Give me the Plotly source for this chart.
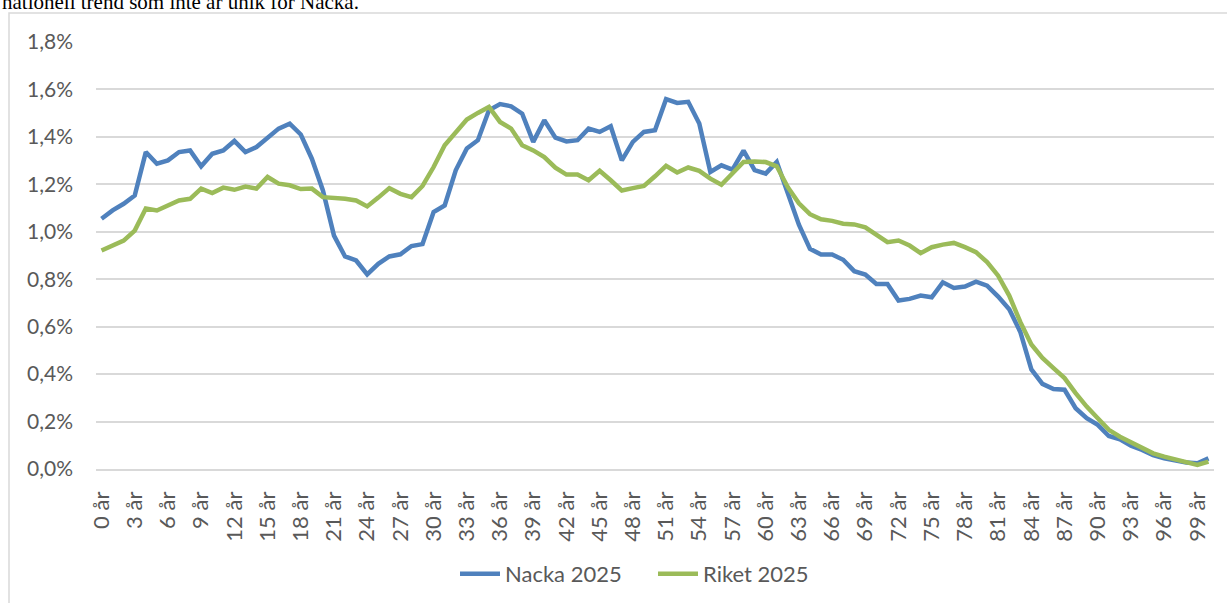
import plotly.graph_objects as go

ages = [f"{a} år" for a in range(101)]
tick_labels = [f"{a} år" for a in range(0, 100, 3)]
y_ticks = [0, 0.2, 0.4, 0.6, 0.8, 1.0, 1.2, 1.4, 1.6, 1.8]
y_tick_labels = ["0,0%", "0,2%", "0,4%", "0,6%", "0,8%", "1,0%", "1,2%", "1,4%", "1,6%", "1,8%"]

nacka_2025 = [
    1.055, 1.090, 1.118, 1.153, 1.336, 1.287, 1.301, 1.336, 1.343, 1.276,
    1.329, 1.343, 1.383, 1.336, 1.357, 1.393, 1.435, 1.456, 1.410, 1.308,
    1.174, 0.984, 0.896, 0.879, 0.820, 0.865, 0.896, 0.905, 0.940, 0.948,
    1.083, 1.111, 1.259, 1.351, 1.386, 1.512, 1.538, 1.529, 1.498, 1.379,
    1.470, 1.397, 1.381, 1.386, 1.435, 1.421, 1.445, 1.301, 1.379, 1.421,
    1.428, 1.559, 1.543, 1.548, 1.456, 1.252, 1.280, 1.262, 1.342, 1.260,
    1.245, 1.294, 1.161, 1.030, 0.928, 0.904, 0.904, 0.882, 0.834, 0.820,
    0.780, 0.780, 0.710, 0.717, 0.731, 0.724, 0.787, 0.763, 0.769, 0.790,
    0.773, 0.727, 0.673, 0.578, 0.420, 0.359, 0.337, 0.334, 0.256, 0.214,
    0.186, 0.139, 0.125, 0.098, 0.080, 0.058, 0.045, 0.035, 0.027, 0.024,
    0.045,
]

riket_2025 = [
    0.921, 0.942, 0.963, 1.005, 1.098, 1.090, 1.111, 1.132, 1.139, 1.182,
    1.163, 1.186, 1.177, 1.191, 1.182, 1.231, 1.203, 1.196, 1.180, 1.182,
    1.146, 1.144, 1.139, 1.132, 1.107, 1.144, 1.184, 1.160, 1.146, 1.193,
    1.273, 1.365, 1.417, 1.473, 1.501, 1.526, 1.463, 1.435, 1.365, 1.343,
    1.315, 1.270, 1.241, 1.241, 1.217, 1.257, 1.217, 1.174, 1.184, 1.193,
    1.234, 1.278, 1.250, 1.271, 1.257, 1.224, 1.198, 1.246, 1.294, 1.296,
    1.294, 1.276, 1.188, 1.120, 1.074, 1.053, 1.046, 1.034, 1.031, 1.019,
    0.989, 0.956, 0.963, 0.942, 0.910, 0.935, 0.946, 0.953, 0.935, 0.914,
    0.872, 0.815, 0.731, 0.620, 0.525, 0.468, 0.425, 0.383, 0.320, 0.263,
    0.214, 0.165, 0.136, 0.111, 0.087, 0.066, 0.052, 0.041, 0.028, 0.017,
    0.031,
]

W, H = 1227, 603
L, R, T, B = 96, 13, 42, 134
pw, ph = W - L - R, H - T - B


def px_x(p):
    return (p - L) / pw


def px_y(p):
    return (H - B - p) / ph


FONT = "Lato"
GRAY = "#595959"

fig = go.Figure()
fig.add_trace(go.Scatter(x=ages, y=nacka_2025, mode="lines", name="Nacka 2025",
                         line=dict(color="#4F81BD", width=4.5)))
fig.add_trace(go.Scatter(x=ages, y=riket_2025, mode="lines", name="Riket 2025",
                         line=dict(color="#9BBB59", width=4.5)))

fig.update_layout(
    width=W, height=H,
    margin=dict(l=L, r=R, t=T, b=B, autoexpand=False),
    paper_bgcolor="white", plot_bgcolor="white",
    font=dict(family=FONT, size=21, color=GRAY),
    showlegend=True,
    legend=dict(orientation="h", x=px_x(455), y=px_y(574), xanchor="left",
                yanchor="middle", font=dict(family=FONT, size=22, color=GRAY),
                bgcolor="rgba(0,0,0,0)", itemwidth=40, tracegroupgap=0,
                entrywidth=143, entrywidthmode="pixels"),
    xaxis=dict(type="category", range=[-0.5, 100.5], tickmode="array",
               tickvals=tick_labels, ticktext=tick_labels, tickangle=-90,
               showgrid=False, showline=True, linecolor="#D9D9D9", linewidth=1.5,
               ticks="", ticklabelstandoff=12,
               tickfont=dict(family=FONT, size=22, color=GRAY)),
    yaxis=dict(range=[0, 1.8], tickmode="array",
               tickvals=y_ticks, ticktext=y_tick_labels, showgrid=True,
               gridcolor="#D9D9D9", gridwidth=1.5, zeroline=False,
               showline=False, ticks="", ticklabelstandoff=22,
               tickfont=dict(family=FONT, size=21, color=GRAY)),
)

# outer chart border
fig.add_shape(type="rect", xref="paper", yref="paper",
              x0=px_x(9), x1=px_x(1260), y0=px_y(640), y1=px_y(13),
              line=dict(color="#D9D9D9", width=1.5), fillcolor="rgba(0,0,0,0)",
              layer="below")

# body text above the chart (cropped at the top edge, as in the source)
fig.add_annotation(text="nationell trend som inte är unik för Nacka.",
                   xref="paper", yref="paper", x=px_x(0), y=px_y(16),
                   xanchor="left", yanchor="bottom", showarrow=False,
                   font=dict(family="Liberation Serif", size=21, color="black"))

fig.write_html("out.html", config={"displayModeBar": False},
               post_script="document.body.style.margin='0px';document.body.style.overflow='hidden';")
